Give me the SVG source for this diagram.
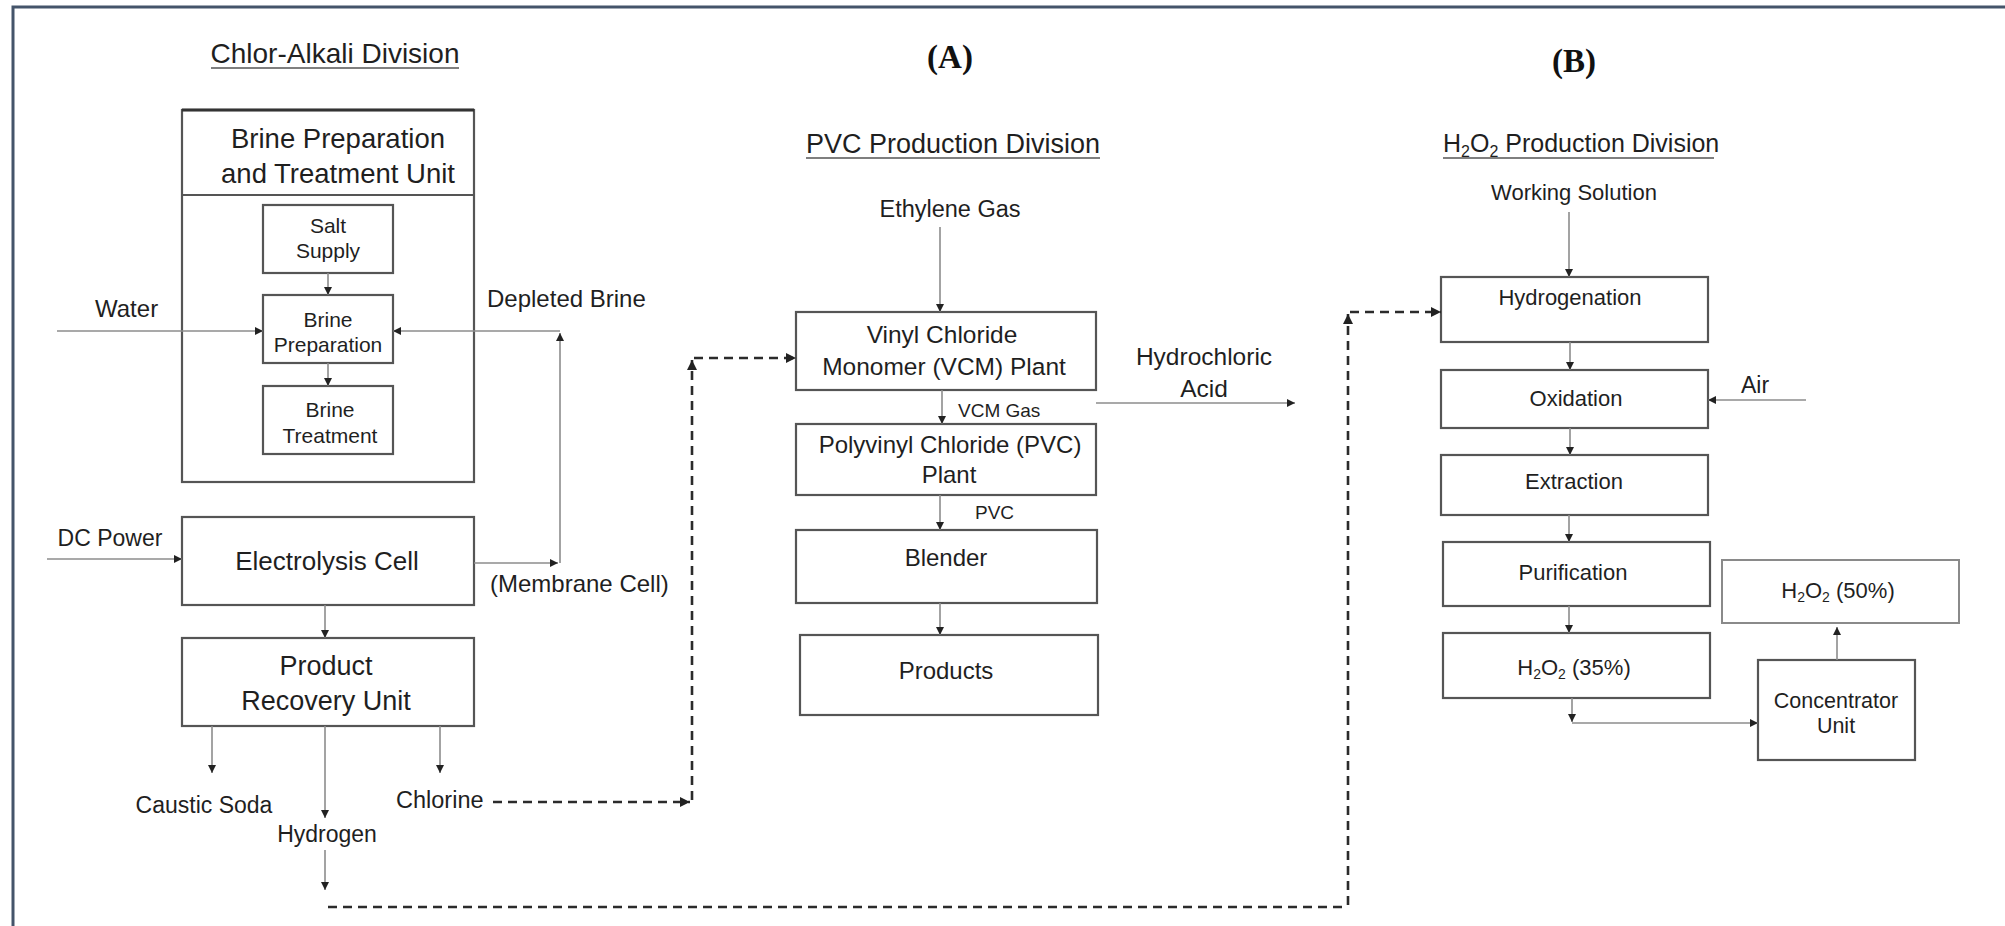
<svg xmlns="http://www.w3.org/2000/svg" width="2005" height="926" viewBox="0 0 2005 926">
  <style>
    .t { font-family: "Liberation Sans", Arial, sans-serif; fill: #1f1f1f; }
    .m { text-anchor: middle; }
    .title { font-family: "Liberation Serif", "Times New Roman", serif; font-weight: bold; fill: #111; text-anchor: middle; }
    .box { fill: #fff; stroke: #555; stroke-width: 2.2; }
    .box-light { fill: #fff; stroke: #8a8a8a; stroke-width: 2; }
    .ul { stroke: #555; stroke-width: 1.6; }
    .flow { fill: none; stroke: #8c8c8c; stroke-width: 1.6; }
    .dash { fill: none; stroke: #2b2b2b; stroke-width: 2.6; stroke-dasharray: 9 6; }
  </style>
  <defs>
    <marker id="arrow" viewBox="0 0 10 10" refX="10" refY="5" markerWidth="8" markerHeight="8" markerUnits="userSpaceOnUse" orient="auto">
      <path d="M0,0 L10,5 L0,10 Z" fill="#222"/>
    </marker>
    <marker id="arrowBig" viewBox="0 0 10 10" refX="10" refY="5" markerWidth="10" markerHeight="10" markerUnits="userSpaceOnUse" orient="auto">
      <path d="M0,0 L10,5 L0,10 Z" fill="#222"/>
    </marker>
  </defs>

  <rect x="0" y="0" width="2005" height="926" fill="#fff"/>

  <!-- frame -->
  <path d="M13,926 V7 H2005" fill="none" stroke="#44546a" stroke-width="3"/>

  <!-- section headings -->
  <g id="headings">
    <text class="t m" x="335" y="63" font-size="28">Chlor-Alkali Division</text>
    <line class="ul" x1="211" y1="68" x2="459" y2="68"/>
    <text class="title" x="950" y="68" font-size="33">(A)</text>
    <text class="title" x="1574" y="72" font-size="33">(B)</text>
    <text class="t m" x="953" y="153" font-size="27">PVC Production Division</text>
    <line class="ul" x1="806" y1="158" x2="1100" y2="158"/>
    <text class="t" x="1443" y="152" font-size="25">H<tspan font-size="16" dy="5">2</tspan><tspan dy="-5">O</tspan><tspan font-size="16" dy="5">2</tspan><tspan dy="-5"> Production Division</tspan></text>
    <line class="ul" x1="1443" y1="158" x2="1714" y2="158"/>
  </g>

  <!-- chlor-alkali units -->
  <g id="brine-unit">
    <rect class="box" x="182" y="110" width="292" height="372"/>
    <line x1="182" y1="110" x2="474" y2="110" stroke="#333" stroke-width="3"/>
    <line x1="182" y1="195" x2="474" y2="195" stroke="#555" stroke-width="2.2"/>
    <text class="t m" x="338" y="148" font-size="27.5">Brine Preparation</text>
    <text class="t m" x="338" y="183" font-size="27.5">and Treatment Unit</text>
  </g>
  <g id="salt-supply">
    <rect class="box" x="263" y="205" width="130" height="68"/>
    <text class="t m" x="328" y="233" font-size="21">Salt</text>
    <text class="t m" x="328" y="258" font-size="21">Supply</text>
  </g>
  <g id="brine-preparation">
    <rect class="box" x="263" y="295" width="130" height="68"/>
    <text class="t m" x="328" y="327" font-size="21">Brine</text>
    <text class="t m" x="328" y="352" font-size="21">Preparation</text>
  </g>
  <g id="brine-treatment">
    <rect class="box" x="263" y="386" width="130" height="68"/>
    <text class="t m" x="330" y="417" font-size="21">Brine</text>
    <text class="t m" x="330" y="443" font-size="21">Treatment</text>
  </g>
  <g id="electrolysis-cell">
    <rect class="box" x="182" y="517" width="292" height="88"/>
    <text class="t m" x="327" y="570" font-size="26">Electrolysis Cell</text>
  </g>
  <g id="product-recovery">
    <rect class="box" x="182" y="638" width="292" height="88"/>
    <text class="t m" x="326" y="675" font-size="27">Product</text>
    <text class="t m" x="326" y="710" font-size="27">Recovery Unit</text>
  </g>

  <!-- PVC units -->
  <g id="vcm-plant">
    <rect class="box" x="796" y="312" width="300" height="78"/>
    <text class="t m" x="942" y="343" font-size="24.5">Vinyl Chloride</text>
    <text class="t m" x="944" y="375" font-size="24.5">Monomer (VCM) Plant</text>
  </g>
  <g id="pvc-plant">
    <rect class="box" x="796" y="424" width="300" height="71"/>
    <text class="t m" x="950" y="453" font-size="24">Polyvinyl Chloride (PVC)</text>
    <text class="t m" x="949" y="483" font-size="24">Plant</text>
  </g>
  <g id="blender">
    <rect class="box" x="796" y="530" width="301" height="73"/>
    <text class="t m" x="946" y="566" font-size="24">Blender</text>
  </g>
  <g id="products">
    <rect class="box" x="800" y="635" width="298" height="80"/>
    <text class="t m" x="946" y="679" font-size="24">Products</text>
  </g>

  <!-- H2O2 units -->
  <g id="hydrogenation">
    <rect class="box" x="1441" y="277" width="267" height="65"/>
    <text class="t m" x="1570" y="305" font-size="22">Hydrogenation</text>
  </g>
  <g id="oxidation">
    <rect class="box" x="1441" y="370" width="267" height="58"/>
    <text class="t m" x="1576" y="406" font-size="22">Oxidation</text>
  </g>
  <g id="extraction">
    <rect class="box" x="1441" y="455" width="267" height="60"/>
    <text class="t m" x="1574" y="489" font-size="22">Extraction</text>
  </g>
  <g id="purification">
    <rect class="box" x="1443" y="542" width="267" height="64"/>
    <text class="t m" x="1573" y="580" font-size="22">Purification</text>
  </g>
  <g id="h2o2-35">
    <rect class="box" x="1443" y="633" width="267" height="65"/>
    <text class="t m" x="1574" y="675" font-size="22">H<tspan font-size="14" dy="4">2</tspan><tspan dy="-4">O</tspan><tspan font-size="14" dy="4">2</tspan><tspan dy="-4"> (35%)</tspan></text>
  </g>
  <g id="concentrator">
    <rect class="box" x="1758" y="660" width="157" height="100"/>
    <text class="t m" x="1836" y="708" font-size="21.5">Concentrator</text>
    <text class="t m" x="1836" y="733" font-size="21.5">Unit</text>
  </g>
  <g id="h2o2-50">
    <rect class="box-light" x="1722" y="560" width="237" height="63"/>
    <text class="t m" x="1838" y="598" font-size="22">H<tspan font-size="14" dy="4">2</tspan><tspan dy="-4">O</tspan><tspan font-size="14" dy="4">2</tspan><tspan dy="-4"> (50%)</tspan></text>
  </g>

  <!-- connectors -->
  <g id="connectors">
    <!-- chlor-alkali -->
    <path class="flow" d="M57,331 H263" marker-end="url(#arrow)"/>
    <path class="flow" d="M328,273 V295" marker-end="url(#arrow)"/>
    <path class="flow" d="M328,363 V386" marker-end="url(#arrow)"/>
    <path class="flow" d="M560,563 V333" marker-end="url(#arrow)"/>
    <path class="flow" d="M560,331 H393" marker-end="url(#arrow)"/>
    <path class="flow" d="M47,559 H182" marker-end="url(#arrow)"/>
    <path class="flow" d="M474,563 H558" marker-end="url(#arrow)"/>
    <path class="flow" d="M325,605 V638" marker-end="url(#arrow)"/>
    <path class="flow" d="M212,726 V773" marker-end="url(#arrow)"/>
    <path class="flow" d="M325,726 V818" marker-end="url(#arrow)"/>
    <path class="flow" d="M325,850 V890" marker-end="url(#arrow)"/>
    <path class="flow" d="M440,726 V773" marker-end="url(#arrow)"/>
    <!-- chlorine to VCM plant -->
    <path class="dash" d="M493,802 H690" marker-end="url(#arrowBig)"/>
    <path class="dash" d="M692,800 V360" marker-end="url(#arrowBig)"/>
    <path class="dash" d="M694,358 H796" marker-end="url(#arrowBig)"/>
    <!-- hydrogen to hydrogenation -->
    <path class="dash" d="M328,907 H1346"/>
    <path class="dash" d="M1348,905 V314" marker-end="url(#arrowBig)"/>
    <path class="dash" d="M1350,312 H1441" marker-end="url(#arrowBig)"/>
    <!-- PVC -->
    <path class="flow" d="M940,227 V312" marker-end="url(#arrow)"/>
    <path class="flow" d="M942,390 V424" marker-end="url(#arrow)"/>
    <path class="flow" d="M1096,403 H1295" marker-end="url(#arrow)"/>
    <path class="flow" d="M940,495 V530" marker-end="url(#arrow)"/>
    <path class="flow" d="M940,603 V635" marker-end="url(#arrow)"/>
    <!-- H2O2 -->
    <path class="flow" d="M1569,212 V277" marker-end="url(#arrow)"/>
    <path class="flow" d="M1570,342 V370" marker-end="url(#arrow)"/>
    <path class="flow" d="M1806,400 H1708" marker-end="url(#arrow)"/>
    <path class="flow" d="M1570,428 V455" marker-end="url(#arrow)"/>
    <path class="flow" d="M1569,515 V542" marker-end="url(#arrow)"/>
    <path class="flow" d="M1569,606 V633" marker-end="url(#arrow)"/>
    <path class="flow" d="M1572,698 V722" marker-end="url(#arrow)"/>
    <path class="flow" d="M1572,723 H1758" marker-end="url(#arrow)"/>
    <path class="flow" d="M1837,660 V627" marker-end="url(#arrow)"/>
  </g>

  <!-- free stream labels -->
  <g id="labels">
    <text class="t" x="95" y="317" font-size="24">Water</text>
    <text class="t" x="487" y="307" font-size="24">Depleted Brine</text>
    <text class="t m" x="110" y="546" font-size="23">DC Power</text>
    <text class="t" x="490" y="592" font-size="24">(Membrane Cell)</text>
    <text class="t m" x="204" y="813" font-size="23">Caustic Soda</text>
    <text class="t m" x="327" y="842" font-size="23">Hydrogen</text>
    <text class="t" x="396" y="808" font-size="23.5">Chlorine</text>
    <text class="t m" x="950" y="217" font-size="23.5">Ethylene Gas</text>
    <text class="t" x="958" y="417" font-size="19">VCM Gas</text>
    <text class="t" x="975" y="519" font-size="19">PVC</text>
    <text class="t m" x="1204" y="365" font-size="24.5">Hydrochloric</text>
    <text class="t m" x="1204" y="397" font-size="24.5">Acid</text>
    <text class="t m" x="1574" y="200" font-size="22">Working Solution</text>
    <text class="t" x="1741" y="393" font-size="23">Air</text>
  </g>
</svg>
